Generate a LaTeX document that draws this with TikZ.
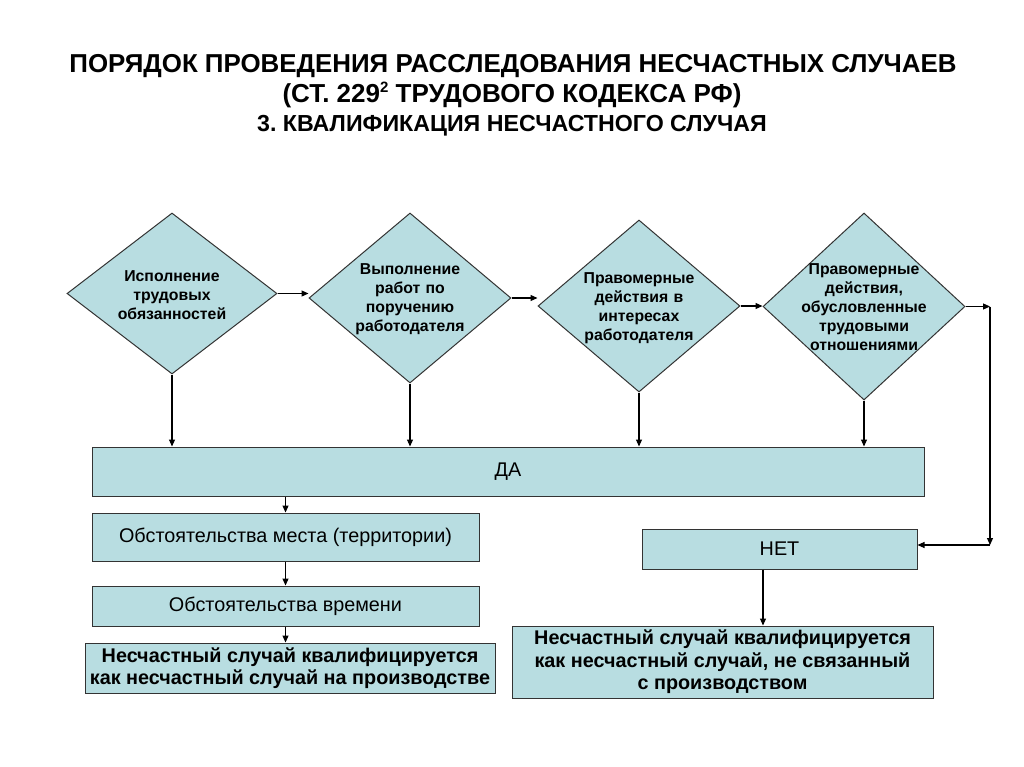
\documentclass[tikz,border=0pt]{standalone}
\usepackage{fontspec}
\setmainfont{Liberation Sans}
\usetikzlibrary{shapes.geometric,arrows.meta}
\definecolor{boxfill}{HTML}{B8DDE1}
\definecolor{edgecol}{HTML}{333333}
\frenchspacing
\begin{document}
\begin{tikzpicture}[x=1pt,y=-1pt,
  dia/.style={diamond,draw=edgecol,line width=1pt,fill=boxfill,inner sep=0pt},
  dtext/.style={align=center,font=\bfseries\fontsize{15.8}{19}\selectfont,text width=130pt},
  rbox/.style={rectangle,draw=edgecol,line width=1pt,fill=boxfill,inner sep=0pt,align=center,font=\fontsize{19.8}{23}\selectfont},
  fbox/.style={rectangle,draw=edgecol,line width=1pt,fill=boxfill,inner sep=0pt,align=center,font=\bfseries\fontsize{19.8}{22.5}\selectfont},
  arr/.style={draw=black,line width=1.1pt,-{Triangle[length=7pt,width=6pt]}},
  ttl/.style={anchor=base,font=\bfseries}
]
\useasboundingbox[fill=white] (0,0) rectangle (1024,767);

% title
\node[ttl,font=\bfseries\fontsize{25.9}{30}\selectfont] (t1) at (513,73) {ПОРЯДОК ПРОВЕДЕНИЯ РАССЛЕДОВАНИЯ НЕСЧАСТНЫХ СЛУЧАЕВ};
\node[ttl,font=\bfseries\fontsize{26}{30}\selectfont] (t2) at (512,103) {(СТ. 229\raisebox{0.42em}{\fontsize{15}{15}\selectfont 2} ТРУДОВОГО КОДЕКСА РФ)};
\node[ttl,font=\bfseries\fontsize{23.2}{26}\selectfont] (t3) at (512,132) {3. КВАЛИФИКАЦИЯ НЕСЧАСТНОГО СЛУЧАЯ};

% diamonds
\node[dia,minimum width=210pt,minimum height=161pt] (d1) at (172,293.5) {};
\node[dtext] (d1t) at (172,295) {Исполнение\\трудовых\\обязанностей};
\node[dia,minimum width=202pt,minimum height=170pt] (d2) at (410,298) {};
\node[dtext] (d2t) at (410,299) {Выполнение\\работ по\\поручению\\работодателя};
\node[dia,minimum width=202pt,minimum height=172pt] (d3) at (639,306) {};
\node[dtext] (d3t) at (639,308) {Правомерные\\действия в\\интересах\\работодателя};
\node[dia,minimum width=202pt,minimum height=187pt] (d4) at (864,306.5) {};
\node[dtext] (d4t) at (864,307) {Правомерные\\действия,\\обусловленные\\трудовыми\\отношениями};

% boxes
\node[rbox,minimum width=832pt,minimum height=49pt] (da) at (508,471.5) {ДА};
\node[rbox,minimum width=387pt,minimum height=48pt] (mesto) at (285.5,537) {Обстоятельства места (территории)};
\node[rbox,minimum width=387pt,minimum height=40pt] (vremya) at (285.5,606) {Обстоятельства времени};
\node[fbox,minimum width=410pt,minimum height=50pt] (fin1) at (290,668) {Несчастный случай квалифицируется\\как несчастный случай на производстве};
\node[rbox,minimum width=275pt,minimum height=40pt] (net) at (779.5,549) {НЕТ};
\node[fbox,minimum width=421pt,minimum height=72pt] (fin2) at (722.5,662) {Несчастный случай квалифицируется\\как несчастный случай, не связанный\\с производством};

% arrows between diamonds
\draw[arr] (d1.east) -- (d1.east -| d2.west);
\draw[arr] (d2.east) -- (d2.east -| d3.west);
\draw[arr] (d3.east) -- (d3.east -| d4.west);

% arrows down to ДА
\draw[arr] (d1.south) -- (d1.south |- da.north);
\draw[arr] (d2.south) -- (d2.south |- da.north);
\draw[arr] (d3.south) -- (d3.south |- da.north);
\draw[arr] (d4.south) -- (d4.south |- da.north);

% left column
\draw[arr] (da.south -| mesto.north) -- (mesto.north);
\draw[arr] (mesto.south) -- (vremya.north);
\draw[arr] (vremya.south) -- (vremya.south |- fin1.north);

% right branch
\coordinate (c1) at (990,306.5);
\coordinate (c2) at (990,545);
\draw[arr] (d4.east) -- (c1);
\draw[arr] (c1) -- (c2);
\draw[arr] (c2) -- (c2 -| net.east);
\draw[arr] ([xshift=-16.5pt]net.south) -- ([xshift=-16.5pt]net.south |- fin2.north);
\end{tikzpicture}
\end{document}
